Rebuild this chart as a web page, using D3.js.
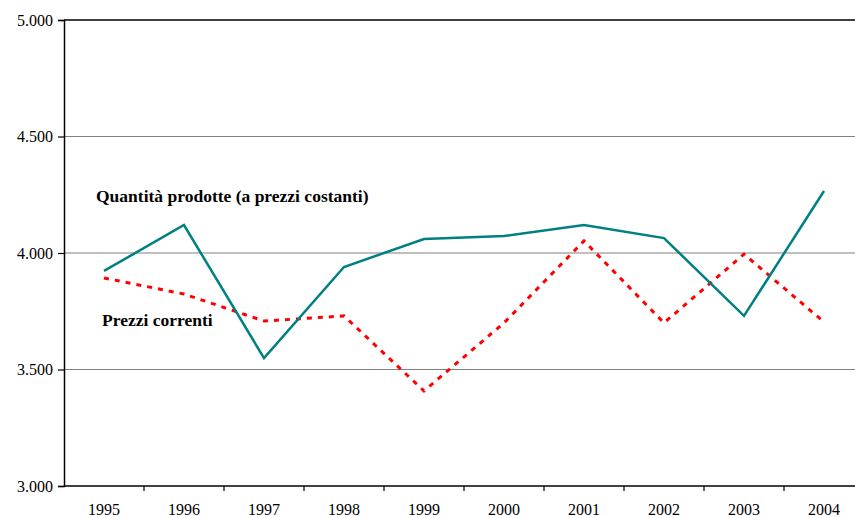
<!DOCTYPE html>
<html>
<head>
<meta charset="utf-8">
<script src="https://d3js.org/d3.v7.min.js"></script>
<style>
  body { margin: 0; background: #fff; }
  #wrap { position: relative; width: 855px; height: 517px; }
  .lbl { position: absolute; font-family: 'Times New Roman', 'Liberation Serif', serif; font-weight: bold; font-size: 17.5px; white-space: nowrap; line-height: 1; }
</style>
</head>
<body>
<div id="wrap">
<svg id="vis"></svg>
</div>
<script>
  var years = ['1995','1996','1997','1998','1999','2000','2001','2002','2003','2004'];
  var quantita = [3923, 4120, 3549, 3940, 4060, 4073, 4120, 4064, 3730, 4266];
  var correnti = [3893, 3824, 3708, 3730, 3408, 3700, 4052, 3700, 3995, 3704];
  var yTicks = [3000, 3500, 4000, 4500, 5000];

  var width = 855, height = 517;
  var svg = d3.select('#vis').attr('width', width).attr('height', height)
      .style('position', 'absolute').style('left', 0).style('top', 0);

  var x = d3.scaleBand().domain(years).range([64, 864]);
  var y = d3.scaleLinear().domain([3000, 5000]).range([486, 20]);
  var it = function(d) { return (d / 1000).toFixed(3); };

  // gridlines
  svg.selectAll('line.grid')
      .data(yTicks.filter(function(d) { return d > 3000; }))
      .enter().append('line')
      .attr('x1', 64).attr('x2', width)
      .attr('y1', function(d) { return y(d); })
      .attr('y2', function(d) { return y(d); })
      .attr('stroke', function(d) { return d === 5000 ? '#000' : '#808080'; })
      .attr('stroke-width', function(d) { return d === 5000 ? 1.5 : 1.2; });

  // y axis
  var yAxis = svg.append('g')
      .attr('transform', 'translate(64,0)')
      .call(d3.axisLeft(y).tickValues(yTicks).tickSize(6).tickPadding(5).tickFormat(it));
  yAxis.attr('font-family', 'Tinos').attr('font-size', 16);
  yAxis.select('.domain').attr('stroke', '#000').attr('stroke-width', 1.5);
  yAxis.selectAll('.tick line').attr('stroke', '#000').attr('stroke-width', 1.2);
  yAxis.selectAll('text').attr('fill', '#000');

  // x axis
  var xAxis = svg.append('g')
      .attr('transform', 'translate(0,486)');
  xAxis.append('line')
      .attr('x1', 64).attr('x2', width).attr('y1', 0).attr('y2', 0)
      .attr('stroke', '#000').attr('stroke-width', 1.5);
  xAxis.selectAll('line.tk')
      .data(years.slice(1))
      .enter().append('line')
      .attr('x1', function(d) { return x(d); })
      .attr('x2', function(d) { return x(d); })
      .attr('y1', 0).attr('y2', 5)
      .attr('stroke', '#000').attr('stroke-width', 1.2);
  xAxis.selectAll('text')
      .data(years)
      .enter().append('text')
      .attr('x', function(d) { return x(d) + x.bandwidth() / 2; })
      .attr('y', 29)
      .attr('text-anchor', 'middle')
      .attr('font-family', 'Liberation Serif')
      .attr('font-size', 16)
      .text(function(d) { return d; });

  var line = d3.line()
      .x(function(d, i) { return x(years[i]) + x.bandwidth() / 2; })
      .y(function(d) { return y(d); });

  svg.append('path')
      .datum(correnti)
      .attr('d', line)
      .attr('fill', 'none')
      .attr('stroke', '#ff0000')
      .attr('stroke-width', 3)
      .attr('stroke-dasharray', '5,6');

  svg.append('path')
      .datum(quantita)
      .attr('d', line)
      .attr('fill', 'none')
      .attr('stroke', '#008080')
      .attr('stroke-width', 2.5);

  // series labels as HTML text over the chart
  var wrap = d3.select('#wrap');
  wrap.append('div').attr('class', 'lbl')
      .style('left', '96px').style('top', '188px')
      .text('Quantità prodotte (a prezzi costanti)');
  wrap.append('div').attr('class', 'lbl')
      .style('left', '102px').style('top', '312px')
      .text('Prezzi correnti');
</script>
</body>
</html>
